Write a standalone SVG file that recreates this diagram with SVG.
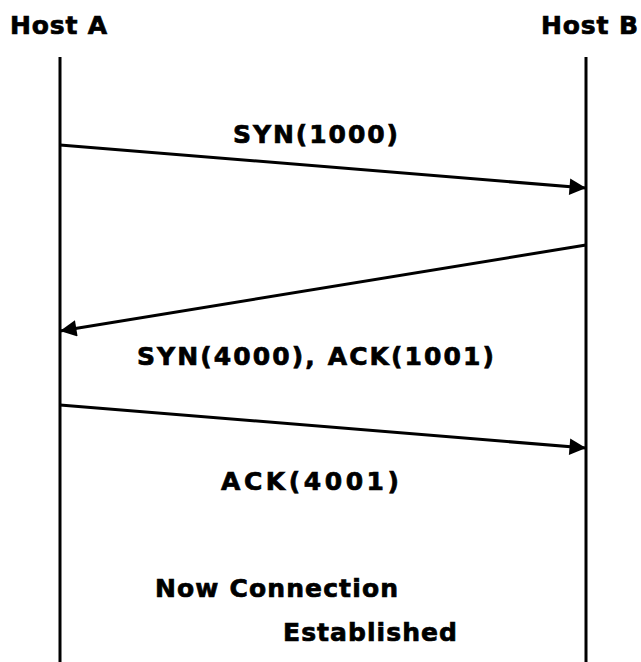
<svg xmlns="http://www.w3.org/2000/svg" width="641" height="662" viewBox="0 0 641 662">
<style>
text{font-family:"DejaVu Sans","Verdana",sans-serif;font-weight:bold;fill:#000;stroke:#000;stroke-width:0.7}
.t{font-size:25px}
.life{stroke:#000;stroke-width:3}
.msg{stroke:#000;stroke-width:3;fill:none;marker-end:url(#ah)}
</style>
<defs>
<marker id="ah" viewBox="0 0 10 10" refX="10" refY="5" markerWidth="9.5" markerHeight="5.5" markerUnits="strokeWidth" orient="auto">
<path d="M0,0 L10,5 L0,10 z" fill="#000"/>
</marker>
</defs>
<rect width="641" height="662" fill="#fff"/>
<g id="hostA">
<text x="10" y="34" font-size="25" textLength="97" lengthAdjust="spacing">Host A</text>
<line class="life" x1="60" y1="57" x2="60" y2="662"/>
</g>
<g id="hostB">
<text x="541" y="34" font-size="25" textLength="97" lengthAdjust="spacing">Host B</text>
<line class="life" x1="586" y1="57" x2="586" y2="662"/>
</g>
<g id="connectors">
<line class="msg" x1="60" y1="145" x2="586" y2="188"/>
<line class="msg" x1="586" y1="245" x2="60" y2="331"/>
<line class="msg" x1="60" y1="405" x2="586" y2="448"/>
</g>
<g id="labels">
<text class="t" x="233" y="143" textLength="165" lengthAdjust="spacing">SYN(1000)</text>
<text class="t" x="137" y="365" textLength="357" lengthAdjust="spacing">SYN(4000), ACK(1001)</text>
<text class="t" x="221" y="490" textLength="178" lengthAdjust="spacing">ACK(4001)</text>
<text class="t" x="155" y="597" textLength="243" lengthAdjust="spacing">Now Connection</text>
<text class="t" x="283" y="641" textLength="174" lengthAdjust="spacing">Established</text>
</g>
</svg>
